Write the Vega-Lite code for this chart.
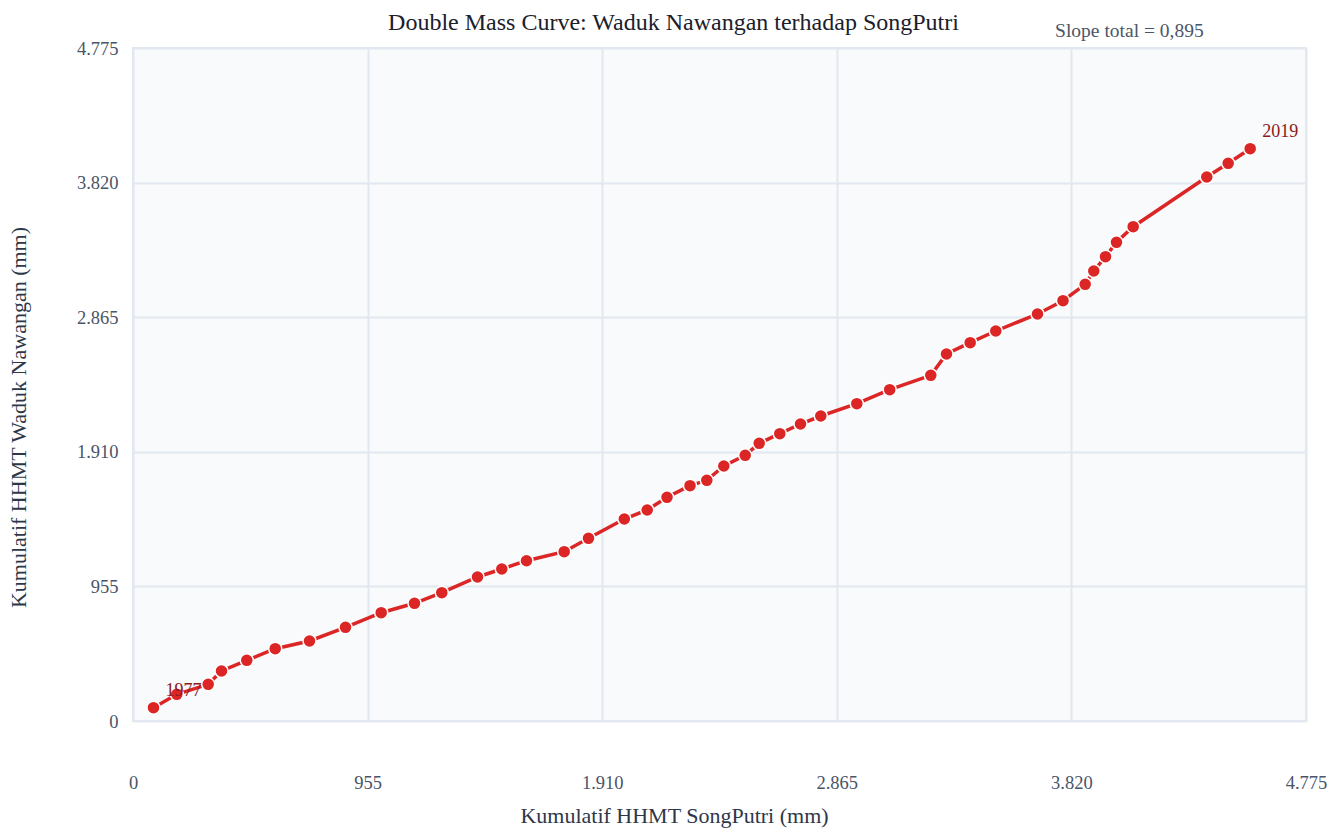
{
  "$schema": "https://vega.github.io/schema/vega-lite/v6.json",
  "autosize": {"type": "none"},
  "width": 1173,
  "height": 673,
  "padding": {"left": 133, "top": 48, "right": 35, "bottom": 111},
  "background": "#ffffff",
  "title": {
    "text": "Double Mass Curve: Waduk Nawangan terhadap SongPutri",
    "font": "Liberation Serif",
    "fontSize": 24,
    "fontWeight": "normal",
    "color": "#1a202c",
    "anchor": "middle",
    "dx": -46,
    "offset": -14
  },
  "config": {
    "view": {"fill": "#f8fafc", "stroke": "#e2e8f0", "strokeWidth": 2},
    "font": "Liberation Serif"
  },
  "data": {
    "values": [
      {"tahun": 1977, "x": 83.4, "y": 94.4},
      {"tahun": 1978, "x": 178.3, "y": 189.4},
      {"tahun": 1979, "x": 306.1, "y": 260.4},
      {"tahun": 1980, "x": 360.3, "y": 354.8},
      {"tahun": 1981, "x": 463.2, "y": 430.7},
      {"tahun": 1982, "x": 578.9, "y": 513.0},
      {"tahun": 1983, "x": 718.5, "y": 567.6},
      {"tahun": 1984, "x": 865.0, "y": 664.8},
      {"tahun": 1985, "x": 1010.4, "y": 768.4},
      {"tahun": 1986, "x": 1145.9, "y": 835.1},
      {"tahun": 1987, "x": 1257.0, "y": 910.3},
      {"tahun": 1988, "x": 1402.4, "y": 1021.7},
      {"tahun": 1989, "x": 1501.3, "y": 1078.5},
      {"tahun": 1990, "x": 1601.8, "y": 1137.3},
      {"tahun": 1991, "x": 1755.3, "y": 1201.2},
      {"tahun": 1992, "x": 1854.2, "y": 1296.3},
      {"tahun": 1993, "x": 2000.0, "y": 1433.2},
      {"tahun": 1994, "x": 2093.2, "y": 1497.1},
      {"tahun": 1995, "x": 2173.8, "y": 1587.2},
      {"tahun": 1996, "x": 2267.4, "y": 1669.5},
      {"tahun": 1997, "x": 2335.8, "y": 1707.8},
      {"tahun": 1998, "x": 2405.0, "y": 1809.3},
      {"tahun": 1999, "x": 2492.1, "y": 1885.2},
      {"tahun": 2000, "x": 2549.1, "y": 1970.3},
      {"tahun": 2001, "x": 2632.9, "y": 2038.4},
      {"tahun": 2002, "x": 2717.2, "y": 2107.2},
      {"tahun": 2003, "x": 2799.8, "y": 2164.0},
      {"tahun": 2004, "x": 2946.4, "y": 2251.3},
      {"tahun": 2005, "x": 3080.3, "y": 2350.6},
      {"tahun": 2006, "x": 3247.6, "y": 2452.8},
      {"tahun": 2007, "x": 3311.5, "y": 2603.9},
      {"tahun": 2008, "x": 3408.0, "y": 2684.1},
      {"tahun": 2009, "x": 3512.2, "y": 2767.1},
      {"tahun": 2010, "x": 3682.0, "y": 2887.7},
      {"tahun": 2011, "x": 3785.8, "y": 2982.1},
      {"tahun": 2012, "x": 3876.1, "y": 3098.4},
      {"tahun": 2013, "x": 3911.1, "y": 3192.8},
      {"tahun": 2014, "x": 3958.8, "y": 3294.3},
      {"tahun": 2015, "x": 4003.5, "y": 3396.4},
      {"tahun": 2016, "x": 4071.5, "y": 3507.1},
      {"tahun": 2017, "x": 4371.1, "y": 3859.7},
      {"tahun": 2018, "x": 4458.2, "y": 3956.9},
      {"tahun": 2019, "x": 4547.8, "y": 4060.5}
    ]
  },
  "encoding": {
    "x": {
      "field": "x",
      "type": "quantitative",
      "scale": {"domain": [0, 4775], "nice": false, "zero": false},
      "axis": {
        "title": "Kumulatif HHMT SongPutri (mm)",
        "values": [0, 955, 1910, 2865, 3820, 4775],
        "labelExpr": "replace(format(datum.value, ',.0f'), ',', '.')",
        "labelFont": "Liberation Serif",
        "labelFontSize": 18.5,
        "labelColor": "#4a5568",
        "labelPadding": 52,
        "labelFlush": false,
        "titleFont": "Liberation Serif",
        "titleFontSize": 22,
        "titleFontWeight": "normal",
        "titleColor": "#2d3748",
        "titlePadding": 14,
        "titleX": 541,
        "domain": false,
        "ticks": false,
        "grid": true,
        "gridColor": "#e2e8f0",
        "gridWidth": 2
      }
    },
    "y": {
      "field": "y",
      "type": "quantitative",
      "scale": {"domain": [0, 4775], "nice": false, "zero": false},
      "axis": {
        "title": "Kumulatif HHMT Waduk Nawangan (mm)",
        "values": [0, 955, 1910, 2865, 3820, 4775],
        "labelExpr": "replace(format(datum.value, ',.0f'), ',', '.')",
        "labelFont": "Liberation Serif",
        "labelFontSize": 18.5,
        "labelColor": "#4a5568",
        "labelPadding": 15,
        "labelFlush": false,
        "titleFont": "Liberation Serif",
        "titleFontSize": 22,
        "titleFontWeight": "normal",
        "titleColor": "#2d3748",
        "titlePadding": 46,
        "titleY": 369,
        "domain": false,
        "ticks": false,
        "grid": true,
        "gridColor": "#e2e8f0",
        "gridWidth": 2
      }
    }
  },
  "layer": [
    {
      "mark": {"type": "line", "color": "#dc2626", "strokeWidth": 3.5},
      "encoding": {"order": {"field": "tahun", "type": "quantitative"}}
    },
    {
      "mark": {"type": "point", "filled": true, "fill": "#dc2626", "stroke": "#ffffff", "strokeWidth": 1.5, "size": 170, "opacity": 1}
    },
    {
      "transform": [{"filter": "datum.tahun == 1977 || datum.tahun == 2019"}],
      "mark": {"type": "text", "align": "left", "baseline": "middle", "dx": 12, "dy": -17, "font": "Liberation Serif", "fontSize": 18, "color": "#8b1a1a"},
      "encoding": {"text": {"field": "tahun", "type": "nominal"}}
    },
    {
      "data": {"values": [{"label": "Slope total = 0,895", "ax": 4056, "ay": 4895}]},
      "mark": {"type": "text", "align": "center", "baseline": "middle", "font": "Liberation Serif", "fontSize": 19.5, "color": "#4a5568"},
      "encoding": {
        "x": {"field": "ax", "type": "quantitative"},
        "y": {"field": "ay", "type": "quantitative"},
        "text": {"field": "label", "type": "nominal"}
      }
    }
  ]
}
